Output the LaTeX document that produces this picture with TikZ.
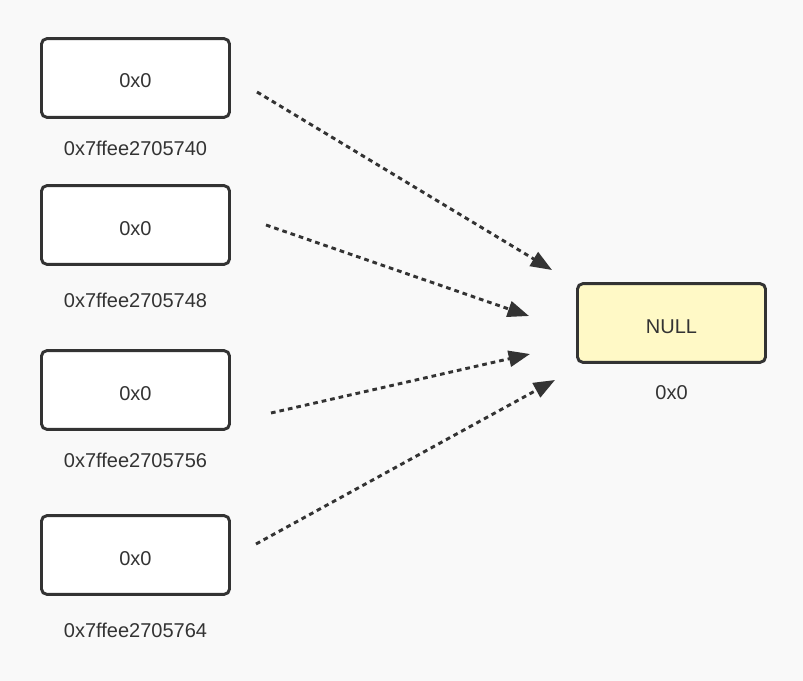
\documentclass[tikz,border=0pt]{standalone}
\usepackage{fontspec}
\setmainfont{Liberation Sans}
\usetikzlibrary{arrows.meta}
\definecolor{bg}{HTML}{F9F9F9}
\definecolor{ink}{HTML}{333333}
\definecolor{nullfill}{HTML}{FFF9C6}
\begin{document}
\begin{tikzpicture}[x=0.75pt,y=-0.75pt,
  cell/.style={draw=ink, line width=2.2pt, rounded corners=4pt, fill=white,
    minimum width=141pt, minimum height=59pt, inner sep=0pt, text=ink,
    font=\fontsize{15}{17}\selectfont, text height=15pt, text depth=0pt},
  addr/.style={text=ink, font=\fontsize{15}{17}\selectfont, inner sep=0pt},
  ptr/.style={draw=ink, line width=2.2pt, dash pattern=on 3.5pt off 3pt,
    -{Triangle[length=16pt,width=12pt]}}]
  % canvas
  \fill[bg] (0,0) rectangle (803,681);
  \useasboundingbox (0,0) rectangle (803,681);

  % pointer cells
  \node[cell] (c1) at (135.5,78)  {0x0};
  \node[cell] (c2) at (135.5,225) {0x0};
  \node[cell] (c3) at (135.5,390) {0x0};
  \node[cell] (c4) at (135.5,555) {0x0};
  \node[addr] (a1) at (135.5,148) {0x7ffee2705740};
  \node[addr] (a2) at (135.5,300) {0x7ffee2705748};
  \node[addr] (a3) at (135.5,460) {0x7ffee2705756};
  \node[addr] (a4) at (135.5,630) {0x7ffee2705764};

  % target
  \node[cell, fill=nullfill] (nul) at (671.5,323) {NULL};
  \node[addr] (na) at (671.5,393) {0x0};

  % arrow ends
  \coordinate (s1) at (257,92);  \coordinate (e1) at (552,270);
  \coordinate (s2) at (266,225); \coordinate (e2) at (529,316);
  \coordinate (s3) at (271,413); \coordinate (e3) at (530,354);
  \coordinate (s4) at (256,544); \coordinate (e4) at (555,380);

  \draw[ptr] (s1) -- (e1);
  \draw[ptr] (s2) -- (e2);
  \draw[ptr] (s3) -- (e3);
  \draw[ptr] (s4) -- (e4);
\end{tikzpicture}
\end{document}
